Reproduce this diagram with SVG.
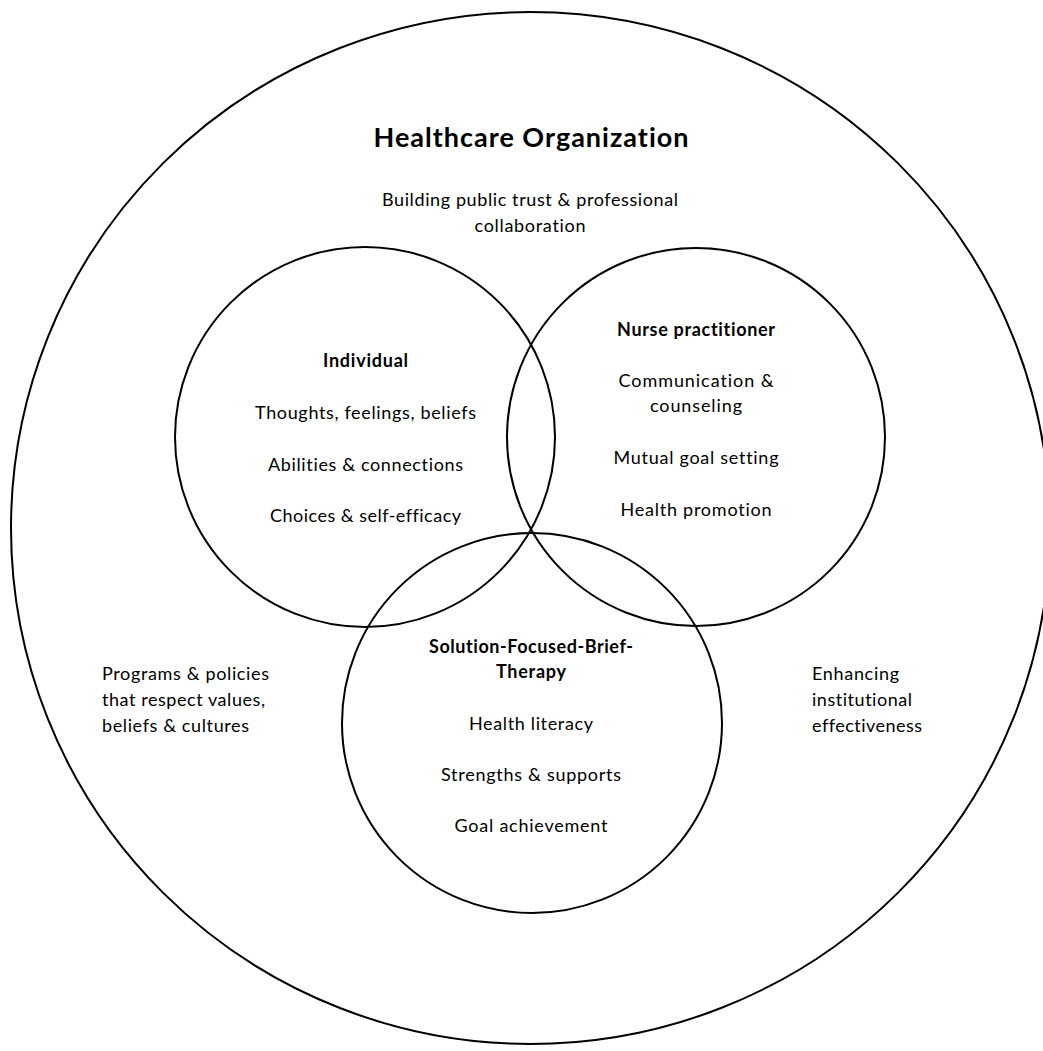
<svg xmlns="http://www.w3.org/2000/svg" width="1043" height="1051" viewBox="0 0 1043 1051">
<style>
.c{fill:none;stroke:#000;stroke-width:2}
text{font-family:Lato,"Open Sans","Liberation Sans",sans-serif;font-size:18px;fill:#000;font-variant-ligatures:none}
.m{text-anchor:middle}
.b{font-weight:bold}
.t{font-size:27px;font-weight:bold}
</style>
<rect width="1043" height="1051" fill="#fff"/>
<g id="organization">
<ellipse class="c" cx="530.5" cy="528" rx="519.5" ry="516"/>
<text class="t m" x="531" y="147" textLength="315">Healthcare Organization</text>
<text class="m" x="530" y="206" textLength="296">Building public trust &amp; professional</text>
<text class="m" x="530" y="232" textLength="111">collaboration</text>
<text x="102" y="680" textLength="167">Programs &amp; policies</text>
<text x="102" y="706" textLength="163">that respect values,</text>
<text x="102" y="732" textLength="147">beliefs &amp; cultures</text>
<text x="812" y="680" textLength="87">Enhancing</text>
<text x="812" y="706" textLength="100">institutional</text>
<text x="812" y="732" textLength="110">effectiveness</text>
</g>
<g id="individual">
<circle class="c" cx="365" cy="437" r="190"/>
<text class="m b" x="365.5" y="367" textLength="85">Individual</text>
<text class="m" x="365.5" y="419" textLength="221">Thoughts, feelings, beliefs</text>
<text class="m" x="365.5" y="471" textLength="195">Abilities &amp; connections</text>
<text class="m" x="365.5" y="522" textLength="191">Choices &amp; self-efficacy</text>
</g>
<g id="nurse">
<circle class="c" cx="696" cy="437" r="189"/>
<text class="m b" x="696" y="336" textLength="158">Nurse practitioner</text>
<text class="m" x="696" y="387" textLength="155">Communication &amp;</text>
<text class="m" x="696" y="412" textLength="92">counseling</text>
<text class="m" x="696" y="464" textLength="165">Mutual goal setting</text>
<text class="m" x="696" y="516" textLength="151">Health promotion</text>
</g>
<g id="sfbt">
<circle class="c" cx="532" cy="723" r="190"/>
<text class="m b" x="531" y="653" textLength="204">Solution-Focused-Brief-</text>
<text class="m b" x="531" y="678" textLength="70">Therapy</text>
<text class="m" x="531" y="730" textLength="124">Health literacy</text>
<text class="m" x="531" y="781" textLength="180">Strengths &amp; supports</text>
<text class="m" x="531" y="832" textLength="153">Goal achievement</text>
</g>
<g id="connectors"/>
</svg>
